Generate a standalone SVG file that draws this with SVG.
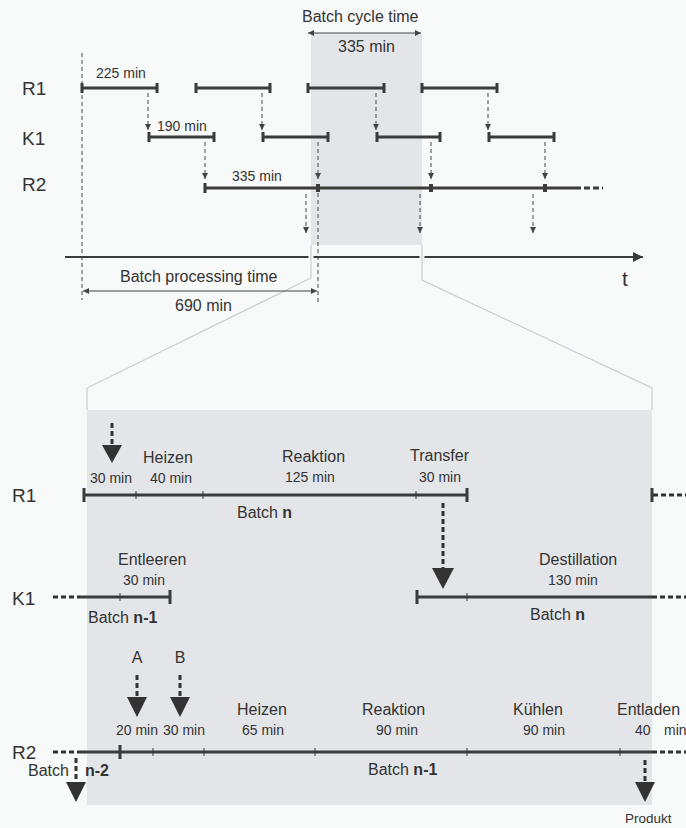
<svg xmlns="http://www.w3.org/2000/svg" width="686" height="828" viewBox="0 0 686 828">
<style>
text{font-family:"Liberation Sans",Arial,sans-serif;fill:#333}
.lbl{font-size:16px}
.dur{font-size:14px}
.row{font-size:19px}
.b{font-weight:bold}
.bar{stroke:#3b3b3b;stroke-width:3;fill:none}
.tick{stroke:#3b3b3b;stroke-width:1}
.thin{stroke:#444;stroke-width:1;stroke-dasharray:4 3;fill:none}
.td{stroke:#333;stroke-width:3;stroke-dasharray:5 3;fill:none}
.frame{stroke:#c9cdd4;stroke-width:1.2;fill:none}
.tri{fill:#333}
.dim{stroke:#444;stroke-width:1;fill:none}
</style>
<defs>
<marker id="ah" viewBox="0 0 10 10" refX="10" refY="5" markerWidth="6" markerHeight="7" orient="auto-start-reverse" markerUnits="userSpaceOnUse"><path d="M0,0 L10,5 L0,10 z" fill="#444"/></marker>
<marker id="axh" viewBox="0 0 10 10" refX="10" refY="5" markerWidth="12" markerHeight="10" orient="auto" markerUnits="userSpaceOnUse"><path d="M0,0 L10,5 L0,10 z" fill="#3b3b3b"/></marker>
</defs>
<rect width="686" height="828" fill="#f8f9f9"/>

<g id="shading">
<rect x="311" y="33" width="111" height="212" fill="#e3e5e9"/>
<rect x="87" y="410" width="565" height="395" fill="#e3e5e9"/>
</g>

<g id="axis">
<line x1="65" y1="257" x2="643" y2="257" stroke="#3b3b3b" stroke-width="2" marker-end="url(#axh)"/>
<text x="622" y="286" style="font-size:21px">t</text>
</g>

<g id="zoom-frame">
<line x1="311" y1="250" x2="311" y2="264" stroke="#f8f9f9" stroke-width="5"/>
<line x1="422" y1="250" x2="422" y2="264" stroke="#f8f9f9" stroke-width="5"/>
<polyline class="frame" points="311,245 311,278 87,388 87,410"/>
<polyline class="frame" points="422,245 422,280 652,388 652,410"/>
</g>

<g id="cycle-time">
<text class="lbl" x="302" y="22">Batch cycle time</text>
<line class="dim" x1="308" y1="33" x2="421" y2="33" marker-start="url(#ah)" marker-end="url(#ah)"/>
<text class="lbl" x="338" y="52">335 min</text>
</g>

<g id="processing-time">
<line x1="82" y1="53" x2="82" y2="300" class="thin"/>
<text class="lbl" x="120" y="282">Batch processing time</text>
<line class="dim" x1="83" y1="291" x2="317" y2="291" marker-start="url(#ah)" marker-end="url(#ah)"/>
<text class="lbl" x="175" y="311">690 min</text>
</g>

<g id="top-R1">
<text class="row" x="22" y="95">R1</text>
<path class="bar" d="M82,88H157M196,88H270M308,88H384M422,88H497M82,83V93M157,83V93M196,83V93M270,83V93M308,83V93M384,83V93M422,83V93M497,83V93"/>
<text class="dur" x="96" y="78">225 min</text>
</g>

<g id="top-K1">
<text class="row" x="22" y="145">K1</text>
<path class="bar" d="M149,137H214M263,137H328M377,137H440M489,137H554M149,132V142M214,132V142M263,132V142M328,132V142M377,132V142M440,132V142M489,132V142M554,132V142"/>
<text class="dur" x="157" y="131">190 min</text>
</g>

<g id="top-R2">
<text class="row" x="22" y="191">R2</text>
<path class="bar" d="M205,188H575M205,183V193"/>
<path d="M575,188H603" stroke="#3b3b3b" stroke-width="3" stroke-dasharray="6 3"/>
<rect x="316" y="184" width="4" height="8" fill="#3b3b3b"/>
<rect x="429" y="184" width="4" height="8" fill="#3b3b3b"/>
<rect x="543" y="184" width="4" height="8" fill="#3b3b3b"/>
<text class="dur" x="232" y="181">335 min</text>
</g>

<g id="connectors">
<line class="thin" x1="148" y1="93" x2="148" y2="130" marker-end="url(#ah)"/>
<line class="thin" x1="262" y1="93" x2="262" y2="130" marker-end="url(#ah)"/>
<line class="thin" x1="376" y1="93" x2="376" y2="130" marker-end="url(#ah)"/>
<line class="thin" x1="488" y1="93" x2="488" y2="130" marker-end="url(#ah)"/>
<line class="thin" x1="205" y1="142" x2="205" y2="179" marker-end="url(#ah)"/>
<line class="thin" x1="318" y1="142" x2="318" y2="179" marker-end="url(#ah)"/>
<line class="thin" x1="318" y1="193" x2="318" y2="305"/>
<line class="thin" x1="431" y1="142" x2="431" y2="179" marker-end="url(#ah)"/>
<line class="thin" x1="545" y1="142" x2="545" y2="179" marker-end="url(#ah)"/>
<line class="thin" x1="306" y1="194" x2="306" y2="233" marker-end="url(#ah)"/>
<line class="thin" x1="420" y1="194" x2="420" y2="233" marker-end="url(#ah)"/>
<line class="thin" x1="533" y1="194" x2="533" y2="233" marker-end="url(#ah)"/>

<line class="td" x1="112" y1="423" x2="112" y2="446"/>
<polygon class="tri" points="102,445 122,445 112,463"/>
<line class="td" x1="443" y1="503" x2="443" y2="569"/>
<polygon class="tri" points="432,568 454,568 443,589"/>
<line class="td" x1="137" y1="675" x2="137" y2="698"/>
<polygon class="tri" points="127,697 147,697 137,717"/>
<line class="td" x1="180" y1="675" x2="180" y2="698"/>
<polygon class="tri" points="170,697 190,697 180,717"/>
<line class="td" x1="76" y1="758" x2="76" y2="783"/>
<polygon class="tri" points="66,782 86,782 76,802"/>
<line class="td" x1="645" y1="760" x2="645" y2="783"/>
<polygon class="tri" points="635,782 655,782 645,802"/>
</g>

<g id="bottom-R1">
<text class="row" x="12" y="502">R1</text>
<path class="bar" d="M84,495H467M84,488V502M467,488V502M652,488V502"/>
<path class="tick" d="M136,491V499M203,491V499M416,491V499"/>
<path d="M653,495H686" stroke="#333" stroke-width="3" stroke-dasharray="5 3"/>
<text class="dur" x="90" y="483">30 min</text>
<text class="lbl" x="143" y="463">Heizen</text>
<text class="dur" x="150" y="483">40 min</text>
<text class="lbl" x="282" y="462">Reaktion</text>
<text class="dur" x="285" y="482">125 min</text>
<text class="lbl" x="410" y="461">Transfer</text>
<text class="dur" x="419" y="482">30 min</text>
<text class="lbl" x="237" y="518">Batch <tspan class="b">n</tspan></text>
</g>

<g id="bottom-K1">
<text class="row" x="12" y="605">K1</text>
<path d="M53,597H80" stroke="#333" stroke-width="3" stroke-dasharray="5 3"/>
<path class="bar" d="M80,597H170M170,590V604"/>
<path class="tick" d="M120,593V601M467,593V601"/>
<text class="lbl" x="118" y="565">Entleeren</text>
<text class="dur" x="123" y="585">30 min</text>
<text class="lbl" x="88" y="623">Batch <tspan class="b">n-1</tspan></text>
<path class="bar" d="M417,597H652M417,590V604"/>
<path d="M652,597H686" stroke="#333" stroke-width="3" stroke-dasharray="5 3"/>
<text class="lbl" x="539" y="565">Destillation</text>
<text class="dur" x="548" y="585">130 min</text>
<text class="lbl" x="530" y="620">Batch <tspan class="b">n</tspan></text>
</g>

<g id="bottom-R2">
<text class="row" x="12" y="759">R2</text>
<path d="M53,752H80" stroke="#333" stroke-width="3" stroke-dasharray="5 3"/>
<path class="bar" d="M80,752H652M120,745V759"/>
<path d="M652,752H686" stroke="#333" stroke-width="3" stroke-dasharray="5 3"/>
<path class="tick" d="M153,748V756M204,748V756M315,748V756M467,748V756M620,748V756"/>
<text class="lbl" x="137" y="663" text-anchor="middle">A</text>
<text class="lbl" x="180" y="663" text-anchor="middle">B</text>
<text class="dur" x="116" y="735">20 min</text>
<text class="dur" x="163" y="735">30 min</text>
<text class="lbl" x="237" y="715">Heizen</text>
<text class="dur" x="242" y="735">65 min</text>
<text class="lbl" x="362" y="715">Reaktion</text>
<text class="dur" x="376" y="735">90 min</text>
<text class="lbl" x="513" y="715">Kühlen</text>
<text class="dur" x="523" y="735">90 min</text>
<text class="lbl" x="617" y="715">Entladen</text>
<text class="dur" x="635" y="735">40</text>
<text class="dur" x="664" y="735">min</text>
<text class="lbl" x="368" y="775">Batch <tspan class="b">n-1</tspan></text>
<text class="lbl" x="28" y="776">Batch</text>
<text class="lbl b" x="85" y="776">n-2</text>
<text x="625" y="823" style="font-size:13.5px">Produkt</text>
</g>
</svg>
